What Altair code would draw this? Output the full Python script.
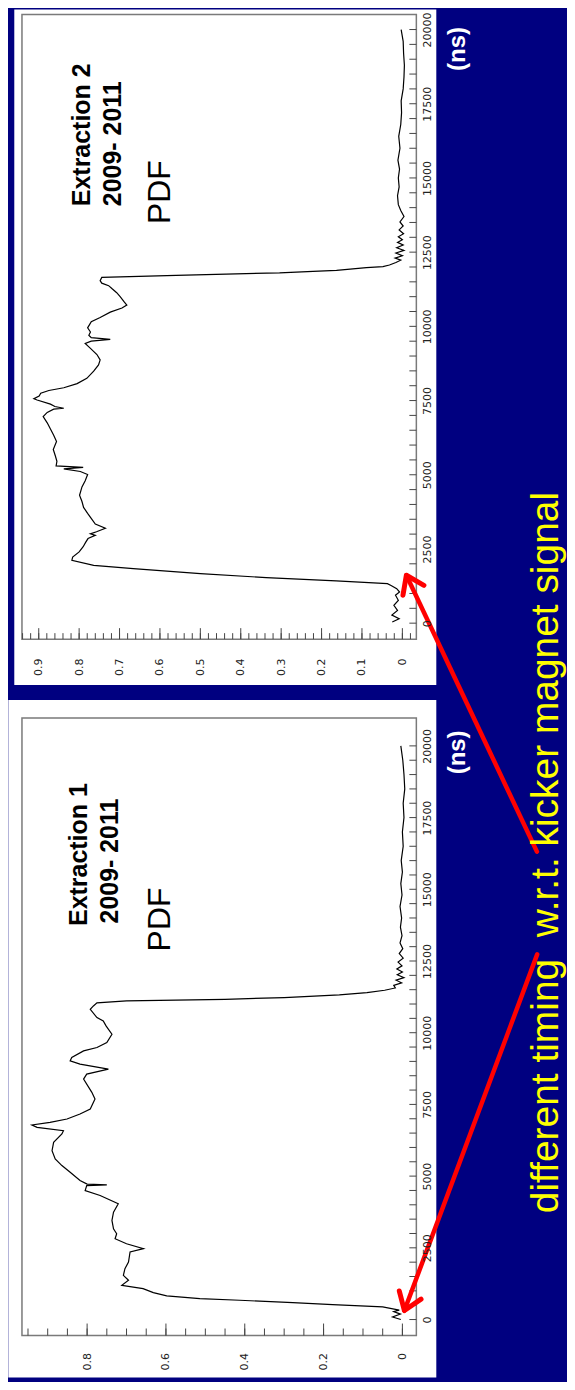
import altair as alt
import pandas as pd

# ---------------- data ----------------
ext2_time = [40, 150, 270, 430, 600, 770, 940, 1050, 1160, 1270, 1333, 1423, 1535, 1669, 1837, 1950,
             2118, 2230, 2400, 2575, 2720, 2850, 2960, 3010, 3080, 3200, 3340, 3550, 3700, 3900, 4100,
             4310, 4590, 4800, 5010, 5110, 5200, 5250, 5300, 5450, 5640, 5850, 6120, 6330, 6540, 6750,
             6960, 7100, 7210, 7240, 7300, 7380, 7520, 7560, 7650, 7750, 7840, 7930, 8070, 8250, 8490,
             8700, 8870, 9050, 9260, 9420, 9500, 9560, 9620, 9700, 9810, 9950, 10160, 10300, 10480,
             10620, 10717, 10814, 10995, 11134, 11273, 11371, 11455, 11540, 11649, 11720, 11802, 11854,
             11887, 11976, 12010, 12066, 12150, 12230, 12300, 12380, 12470, 12560, 12650, 12740, 12830,
             12920, 13020, 13120, 13250, 13380, 13520, 13700, 13900, 14100, 14400, 14700, 15000, 15300,
             15600, 16000, 16400, 16800, 17200, 17600, 18000, 18400, 18800, 19200, 19600, 20000]
ext2_pdf = [0.025, 0.008, 0.026, 0.012, 0.021, 0.010, 0.017, 0.007, 0.014, 0.028, 0.037, 0.164, 0.337,
            0.500, 0.666, 0.764, 0.818, 0.816, 0.800, 0.790, 0.784, 0.778, 0.760, 0.772, 0.757, 0.735,
            0.760, 0.771, 0.779, 0.789, 0.793, 0.799, 0.793, 0.785, 0.779, 0.797, 0.838, 0.790, 0.857,
            0.855, 0.859, 0.864, 0.856, 0.863, 0.871, 0.879, 0.889, 0.879, 0.863, 0.838, 0.860, 0.871,
            0.904, 0.912, 0.899, 0.895, 0.875, 0.838, 0.805, 0.781, 0.764, 0.752, 0.748, 0.756, 0.772,
            0.785, 0.770, 0.723, 0.770, 0.776, 0.772, 0.779, 0.770, 0.748, 0.723, 0.694, 0.682, 0.688,
            0.698, 0.707, 0.719, 0.727, 0.744, 0.748, 0.744, 0.560, 0.304, 0.221, 0.163, 0.089, 0.048,
            0.032, 0.016, 0.004, 0.018, 0.000, 0.016, -0.004, 0.014, -0.002, 0.012, 0.000, 0.010, -0.003,
            0.008, -0.002, 0.006, -0.004, 0.004, 0.010, 0.012, 0.008, 0.010, 0.007, 0.011, 0.006, 0.009,
            0.004, 0.002, 0.003, -0.002, -0.004, -0.005, -0.003, -0.002, 0.003]

ext1_time = [0, 90, 190, 280, 330, 441, 522, 591, 672, 730, 823, 939, 1078, 1194, 1368, 1542, 1774,
             2006, 2354, 2470, 2643, 2817, 2991, 3165, 3455, 3746, 4035, 4323, 4498, 4672, 4696, 4720,
             4846, 5136, 5368, 5600, 5890, 6180, 6470, 6585, 6702, 6783, 6875, 6991, 7165, 7339, 7687,
             7920, 8383, 8557, 8730, 8904, 9020, 9136, 9367, 9484, 9658, 9948, 10237, 10411, 10528,
             10817, 10933, 11040, 11110, 11165, 11224, 11320, 11400, 11480, 11560, 11650, 11740, 11830,
             11920, 12020, 12120, 12220, 12330, 12460, 12600, 12760, 12930, 13130, 13380, 13680, 14000,
             14400, 14800, 15200, 15600, 16000, 16500, 17000, 17500, 18000, 18500, 19000, 19500, 20000]
ext1_pdf = [0.004, 0.025, 0.005, 0.022, 0.008, 0.050, 0.177, 0.278, 0.413, 0.514, 0.598, 0.632, 0.658,
            0.712, 0.695, 0.708, 0.704, 0.695, 0.691, 0.657, 0.700, 0.729, 0.725, 0.733, 0.737, 0.733,
            0.721, 0.767, 0.805, 0.801, 0.750, 0.800, 0.818, 0.843, 0.864, 0.881, 0.889, 0.885, 0.864,
            0.860, 0.927, 0.940, 0.894, 0.851, 0.818, 0.792, 0.780, 0.788, 0.809, 0.801, 0.746, 0.818,
            0.843, 0.839, 0.809, 0.775, 0.750, 0.737, 0.752, 0.759, 0.775, 0.792, 0.784, 0.775, 0.700,
            0.450, 0.300, 0.160, 0.090, 0.045, 0.018, 0.022, 0.002, 0.016, -0.004, 0.013, 0.000, 0.014,
            0.001, 0.011, -0.002, 0.008, -0.001, 0.006, 0.001, 0.005, 0.002, 0.006, 0.001, 0.004, 0.000,
            0.003, -0.002, 0.000, -0.004, -0.002, -0.006, -0.004, -0.001, 0.004]

time_label_values = [0, 2500, 5000, 7500, 10000, 12500, 15000, 17500, 20000]
time_minor_values = [i * 500 for i in range(41)]
ext2_pdf_label_values = [0, 0.1, 0.2, 0.3, 0.4, 0.5, 0.6, 0.7, 0.8, 0.9]
ext2_pdf_minor_values = [round(-0.02 + 0.02 * i, 2) for i in range(49)]
ext1_pdf_label_values = [0, 0.2, 0.4, 0.6, 0.8]
ext1_pdf_minor_values = [round(0.05 * i, 2) for i in range(20)]

panel_names = ["Extraction 2", "Extraction 1"]
period_text = "2009- 2011"
quantity_text = "PDF"
unit_text = "(ns)"
note_text = "different timing\u00a0 w.r.t. kicker magnet signal"

# annotation anchors, in each panel's own data units (pdf, time)
ext2_text_pdf = [0.773, 0.696, 0.575]
ext2_text_time = [14050, 14050, 13445]
ext1_text_pdf = [0.800, 0.7215, 0.590]
ext1_text_time = [13722, 13809, 12835]
# arrows: tail -> tip, in panel data units, plus head angle
ext2_arrow = dict(pdf=-0.333, t=-7697, pdf2=-0.0099, t2=1613, angle=334.7)
ext1_arrow = dict(pdf=-0.342, t=12730, pdf2=-0.0051, t2=313, angle=200.4)
note_pos = dict(pdf=-0.395, t=16280)

# ---------------- styling ----------------
NAVY = "#000080"
W = 395.3
H_TOP = 626
H_BOT = 619
LABEL_FONT = "DejaVu Sans"
TEXT_FONT = "Liberation Sans"
CHEVRON = "M -0.7 1 L 0 0 L 0.7 1"


def panel(times, pdfs, x_dom, y_dom, h, pdf_labels, pdf_minor, pdf_major_len, pdf_minor_len,
          pdf_label_pad, white_box, title, text_pdf, text_time, arrow, extras=None):
    one = pd.DataFrame({"a": [0]})
    xs = alt.Scale(domain=x_dom, reverse=True, nice=False, zero=False)
    ys = alt.Scale(domain=y_dom, nice=False, zero=False)
    x_axis = alt.Axis(values=pdf_labels, labelExpr="datum.value == 0 ? '0' : format(datum.value, '.1f')",
                      orient="bottom", labelAngle=270, labelAlign="right", labelBaseline="middle",
                      labelPadding=pdf_label_pad, ticks=False, tickSize=0, domain=False, grid=False,
                      labelFont=LABEL_FONT, labelFontSize=11, labelColor="#222222", labelFlush=False,
                      labelOverlap=False, title=None, zindex=1)
    y_axis = alt.Axis(values=time_label_values, format="d", orient="right", labelAngle=270,
                      labelAlign="center", labelBaseline="top", labelPadding=5, ticks=False,
                      tickSize=0, domain=False, grid=False, labelFont=LABEL_FONT, labelFontSize=11,
                      labelColor="#222222", labelFlush=False, labelOverlap=False,
                      title=unit_text, titleAngle=270, titleAlign="right", titleBaseline="alphabetic",
                      titleX=48.5, titleY=12, titleColor="white", titleFont=TEXT_FONT,
                      titleFontSize=24, titleFontWeight="bold", zindex=1)
    X = alt.X("pdf:Q", scale=xs, axis=x_axis)
    Y = alt.Y("t:Q", scale=ys, axis=y_axis)

    bx0, bx1, by0, by1 = white_box
    box = alt.Chart(one).mark_rect(color="white").encode(
        x=alt.value(bx0), x2=alt.value(bx1), y=alt.value(by0), y2=alt.value(by1))
    frame = alt.Chart(one).mark_rect(filled=False, stroke="#7a7a7a", strokeWidth=1.5).encode(
        x=alt.value(0), x2=alt.value(W), y=alt.value(0), y2=alt.value(h))

    major_pdf = pd.DataFrame({"pdf": pdf_labels})
    minor_pdf = pd.DataFrame({"pdf": pdf_minor})
    tick_major = alt.Chart(major_pdf).mark_rule(color="#444444", strokeWidth=1).encode(
        x=X, y=alt.value(h - pdf_major_len), y2=alt.value(h))
    tick_minor = alt.Chart(minor_pdf).mark_rule(color="#444444", strokeWidth=1).encode(
        x=X, y=alt.value(h - pdf_minor_len), y2=alt.value(h))
    tick_time = alt.Chart(pd.DataFrame({"t": time_minor_values})).mark_rule(
        color="#444444", strokeWidth=1).encode(y=Y, x=alt.value(W - 7), x2=alt.value(W))

    df = pd.DataFrame({"t": times, "pdf": pdfs, "idx": list(range(len(times)))})
    line = alt.Chart(df).mark_line(color="black", strokeWidth=1.2).encode(
        x=X, y=Y, order=alt.Order("idx:Q"))

    bold_df = pd.DataFrame({"pdf": text_pdf[:2], "t": text_time[:2], "txt": [title, period_text]})
    bold_txt = alt.Chart(bold_df).mark_text(angle=270, align="left", baseline="alphabetic",
                                            font=TEXT_FONT, fontSize=25, fontWeight="bold",
                                            color="black").encode(x=X, y=Y, text="txt:N")
    pdf_df = pd.DataFrame({"pdf": text_pdf[2:], "t": text_time[2:], "txt": [quantity_text]})
    pdf_txt = alt.Chart(pdf_df).mark_text(angle=270, align="left", baseline="alphabetic",
                                          font=TEXT_FONT, fontSize=32, color="black").encode(
        x=X, y=Y, text="txt:N")

    adf = pd.DataFrame([arrow])
    shaft = alt.Chart(adf).mark_rule(color="#ff0000", strokeWidth=4.5, strokeCap="round").encode(
        x=X, y=Y, x2="pdf2:Q", y2="t2:Q")
    head = alt.Chart(adf).mark_point(shape=CHEVRON, filled=False, stroke="#ff0000", strokeWidth=5,
                                     size=1100, angle=arrow["angle"], opacity=1,
                                     strokeCap="round", strokeJoin="round").encode(
        x=alt.X("pdf2:Q", scale=xs, axis=x_axis), y=alt.Y("t2:Q", scale=ys, axis=y_axis))

    layers = [box, frame, tick_major, tick_minor, tick_time, line, bold_txt, pdf_txt, shaft, head]
    if extras:
        layers += extras(X, Y)
    return alt.layer(*layers).properties(width=W, height=h)


def bottom_extras(X, Y):
    note_df = pd.DataFrame({"pdf": [note_pos["pdf"]], "t": [note_pos["t"]], "txt": [note_text]})
    note = alt.Chart(note_df).mark_text(angle=270, align="center", baseline="alphabetic",
                                        font=TEXT_FONT, fontSize=39, color="#ffff00").encode(
        x=X, y=Y, text="txt:N")
    spacer = alt.Chart(pd.DataFrame({"a": [0]})).mark_rect(color=NAVY).encode(
        x=alt.value(540), x2=alt.value(545.3), y=alt.value(660), y2=alt.value(664))
    return [note, spacer]


top = panel(ext2_time, ext2_pdf, [-0.0346, 0.9415], [-538, 20504], H_TOP,
            ext2_pdf_label_values, ext2_pdf_minor_values, 11, 6, 19,
            (-7.7, 415.3, -5, 672), panel_names[0], ext2_text_pdf, ext2_text_time, ext2_arrow)
bottom = panel(ext1_time, ext1_pdf, [-0.0354, 0.9653], [-557, 20974], H_BOT,
               ext1_pdf_label_values, ext1_pdf_minor_values, 12, 7, 17,
               (-13.7, 415.3, -18, 661), panel_names[1], ext1_text_pdf, ext1_text_time, ext1_arrow,
               extras=bottom_extras)

chart = alt.vconcat(top, bottom, spacing=79, bounds="flush").resolve_scale(
    x="independent", y="independent").properties(padding=0).configure(
    background=NAVY).configure_view(strokeWidth=0)

chart.save("out.html", embed_options={"renderer": "svg", "actions": False})
